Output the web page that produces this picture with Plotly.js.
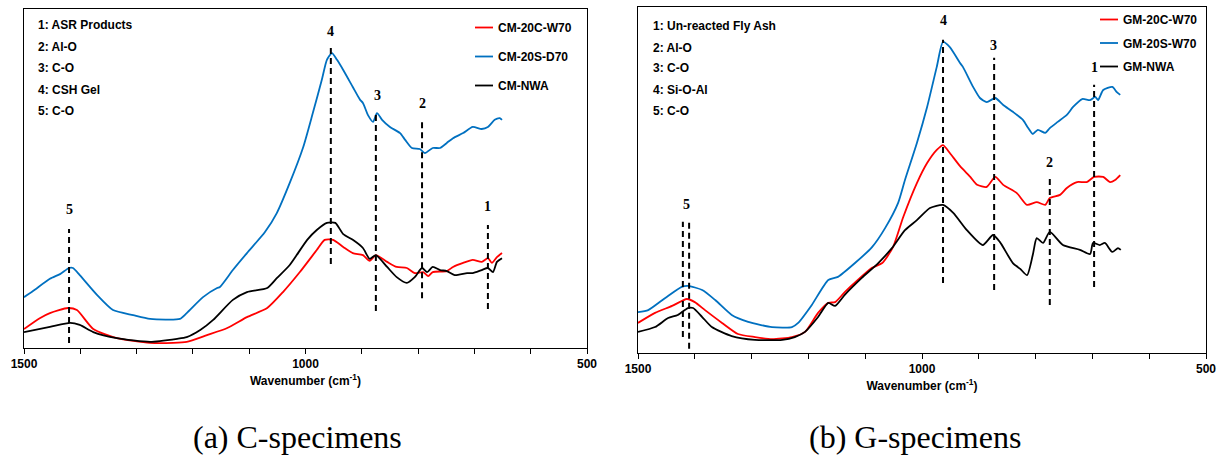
<!DOCTYPE html>
<html>
<head>
<meta charset="utf-8">
<script src="https://cdn.plot.ly/plotly-3.0.1.min.js"></script>
<style>
  html, body { margin: 0; padding: 0; background: #fff; }
  #chart { width: 1219px; height: 456px; }
</style>
</head>
<body>
<div id="chart"></div>
<script>
// ---------------- DATA (wavenumber cm-1, absorbance a.u.) ----------------
// (a) C-specimens
const cWn20C  = [1500,1472,1454,1422,1406,1377,1335,1276,1235,1211,1175,1139,1104,1068,1040,1010,980,966,951,933,916,898,886,875,855,838,820,806,791,782,774,749,738,720,703,687,676,669,660,651];
const cAbs20C = [5.6,8.8,10.3,11.8,11.2,5.6,2.9,1.5,1.5,1.8,3.8,5.9,9.1,11.8,16.5,22.4,28.9,31.9,31.9,29.8,28.0,27.4,25.7,27.4,25.4,23.9,23.6,22.1,22.4,21.2,22.4,22.7,23.9,25.1,26.0,25.4,26.5,25.1,26.8,28.0];

const cWn20S  = [1500,1484,1454,1436,1420,1413,1401,1370,1342,1306,1276,1223,1211,1182,1157,1152,1129,1104,1072,1051,1028,1004,987,971,962,953,944,933,916,903,898,889,880,873,864,850,832,823,811,797,788,774,761,749,738,720,703,687,676,664,655,651];
const cAbs20S = [15.0,16.8,20.4,21.8,23.6,23.6,21.5,15.6,11.2,9.7,8.6,8.6,10.3,15.0,17.7,18.0,23.0,28.0,34.2,39.8,48.7,59.3,69.3,79.1,85.0,87.0,85.0,82.0,77.0,73.2,72.3,68.7,66.7,69.3,67.3,65.2,63.4,61.4,59.0,58.7,57.5,59.0,59.0,60.5,61.9,63.4,65.2,64.6,65.2,67.3,67.8,67.3];

const cWnNWA  = [1500,1454,1418,1401,1377,1335,1276,1228,1211,1187,1164,1129,1104,1068,1051,1028,997,980,962,947,933,916,898,886,875,855,838,820,806,793,784,774,761,749,735,713,703,687,676,667,660,651];
const cAbsNWA = [4.7,6.2,7.4,6.8,4.7,2.9,1.8,2.7,3.2,5.3,8.3,14.2,16.5,17.7,20.6,24.5,31.9,34.8,36.9,36.9,33.6,31.9,29.5,26.3,27.4,23.9,20.9,19.2,20.9,23.6,22.4,23.9,23.0,22.7,21.5,22.1,22.1,23.0,23.6,22.4,25.4,26.5];

// (b) G-specimens
const gWn20C  = [1500,1470,1440,1414,1400,1382,1352,1324,1294,1264,1229,1206,1183,1165,1153,1136,1113,1088,1070,1051,1033,1009,991,974,963,951,933,915,903,886,871,857,833,815,798,783,775,757,745,727,710,697,681,669,660,651];
const gAbs20C = [8.7,11.6,13.6,15.6,14.7,12.4,8.7,5.5,4.6,4.0,4.6,6.1,11.6,14.5,14.7,17.6,21.1,24.6,26.0,30.6,39.3,49.1,54.9,58.7,60.1,57.8,54.0,50.9,48.6,48.0,50.9,48.6,46.2,42.8,43.6,42.8,44.8,45.7,47.7,49.4,49.4,50.9,50.9,49.4,50.0,51.4];

const gWn20S  = [1500,1482,1452,1423,1412,1387,1364,1335,1306,1264,1229,1218,1194,1165,1148,1118,1088,1065,1042,1030,1009,991,974,963,951,933,928,910,898,886,871,857,840,822,813,805,796,783,775,761,745,734,718,704,695,690,681,665,657,651];
const gAbs20S = [11.8,12.4,15.9,19.1,19.4,18.2,15.3,11.0,9.0,7.5,7.5,8.7,13.9,21.1,22.0,26.0,30.6,36.1,43.4,50.0,60.7,71.1,82.7,89.9,88.4,83.8,82.7,76.9,73.7,72.5,73.7,71.7,69.7,67.3,65.0,63.3,64.5,63.6,65.0,66.8,68.8,71.1,73.4,73.1,74.0,73.1,76.0,76.9,75.4,74.6];

const gWnNWA  = [1500,1470,1447,1430,1412,1403,1387,1370,1335,1294,1246,1224,1206,1183,1165,1153,1136,1106,1077,1053,1030,1009,986,963,945,921,893,875,863,840,827,815,805,798,787,775,752,722,704,699,687,678,665,655,650];
const gAbsNWA = [6.1,7.5,10.1,11.0,13.0,13.0,10.4,7.5,4.9,3.8,3.8,4.6,6.1,10.4,14.5,13.6,16.8,21.7,26.0,30.3,35.5,38.4,41.9,42.8,40.5,35.5,31.2,34.1,32.1,26.0,24.3,22.5,28.3,33.2,31.8,35.0,31.2,29.8,28.6,31.8,31.2,31.8,29.2,30.3,29.8];

// Series names
const cNames = ['CM-20C-W70', 'CM-20S-D70', 'CM-NWA'];
const gNames = ['GM-20C-W70', 'GM-20S-W70', 'GM-NWA'];

// Band assignments
const cBands = ['1: ASR Products', '2: Al-O', '3: C-O', '4: CSH Gel', '5: C-O'];
const gBands = ['1: Un-reacted Fly Ash', '2: Al-O', '3: C-O', '4: Si-O-Al', '5: C-O'];

// Peak markers (wavenumber, label)
const cPeakWn    = [676, 793, 875, 955, 1420];
const cPeakLabel = ['1', '2', '3', '4', '5'];
const gPeakWn    = [697, 775, 873, 963, 1421, 1410];
const gPeakLabel = ['1', '2', '3', '4', '5', ''];

// Tick labels
const tickVals = [1500, 1000, 500];
const tickText = ['1500', '1000', '500'];

// Captions
const captions = ['(a) C-specimens', '(b) G-specimens'];

// ---------------- LAYOUT HELPERS (positions of marker lines/labels) ----------------
const cMarkTop    = [36.3, 67.3, 69.3, 89.4, 35.1];
const cMarkBottom = [11.5, 14.7, 10.9, 24.8, 1.5];
const cLabelY     = [41.6, 72.0, 74.6, 93.5, 41.0];
const cLabelX     = [676, 792, 873, 955, 1419];
const gMarkTop    = [77.5, 50.9, 85.3, 90.5, 37.9, 37.9];
const gMarkBottom = [19.1, 13.9, 18.2, 20.2, 4.6, 1.2];
const gLabelY     = [82.4, 55.2, 89.0, 96.2, 42.8, 0];
const gLabelX     = [697, 776, 875, 963, 1415, 0];

const colors = ['#FF0000', '#0070C0', '#000000'];
const W = 1219, H = 456;
const px = v => v / W;
const py = v => 1 - v / H;

const sans = 'Liberation Sans, Arial, sans-serif';
const serif = 'Liberation Serif, Times New Roman, serif';

const traces = [];
function addSet(wns, abss, names, xa, ya, leg) {
  for (let i = 0; i < 3; i++) {
    traces.push({
      type: 'scatter', mode: 'lines',
      x: wns[i], y: abss[i], name: names[i],
      xaxis: xa, yaxis: ya, legend: leg, legendgroup: leg + i,
      line: { color: colors[i], width: 1.8, shape: 'spline', smoothing: 0.6 },
      hoverinfo: 'skip'
    });
  }
}
addSet([cWn20C, cWn20S, cWnNWA], [cAbs20C, cAbs20S, cAbsNWA], cNames, 'x', 'y', 'legend');
addSet([gWn20C, gWn20S, gWnNWA], [gAbs20C, gAbs20S, gAbsNWA], gNames, 'x2', 'y2', 'legend2');

const shapes = [];
const annotations = [];
function addPeaks(wns, labels, tops, bottoms, ly, lx, xr, yr) {
  for (let i = 0; i < wns.length; i++) {
    shapes.push({
      type: 'line', xref: xr, yref: yr,
      x0: wns[i], x1: wns[i], y0: bottoms[i], y1: tops[i],
      line: { color: '#000', width: 2, dash: '6px,4px' }
    });
    if (labels[i]) {
      annotations.push({
        xref: xr, yref: yr, x: lx[i], y: ly[i], text: labels[i], showarrow: false,
        font: { family: serif, size: 14, color: '#000', weight: 'bold' }
      });
    }
  }
}
addPeaks(cPeakWn, cPeakLabel, cMarkTop, cMarkBottom, cLabelY, cLabelX, 'x', 'y');
addPeaks(gPeakWn, gPeakLabel, gMarkTop, gMarkBottom, gLabelY, gLabelX, 'x2', 'y2');

function addBands(list, x0, ys) {
  list.forEach((t, i) => annotations.push({
    xref: 'paper', yref: 'paper', x: px(x0), y: py(ys[i]), xanchor: 'left', yanchor: 'middle',
    text: t, showarrow: false, font: { family: sans, size: 12, color: '#000', weight: 'bold' }
  }));
}
addBands(cBands, 36, [25, 47, 68, 90, 111]);
addBands(gBands, 651, [26, 48, 68, 90, 111]);

annotations.push({
  xref: 'paper', yref: 'paper', x: px(297), y: py(437), text: captions[0], showarrow: false,
  xanchor: 'center', yanchor: 'middle', font: { family: serif, size: 32, color: '#000' }
});
annotations.push({
  xref: 'paper', yref: 'paper', x: px(915), y: py(437), text: captions[1], showarrow: false,
  xanchor: 'center', yanchor: 'middle', font: { family: serif, size: 32, color: '#000' }
});

function xAxis(domain, anchor) {
  return {
    domain: domain, anchor: anchor, range: [1500, 500], autorange: false,
    tickmode: 'array', tickvals: tickVals, ticktext: tickText,
    ticks: 'outside', ticklen: 5, tickwidth: 1, tickcolor: '#000',
    minor: { tickmode: 'linear', tick0: 500, dtick: 100, ticks: 'outside', ticklen: 5, tickwidth: 1, tickcolor: '#000' },
    showline: true, linecolor: '#000', linewidth: 1, mirror: true,
    showgrid: false, zeroline: false,
    tickfont: { family: sans, size: 12, color: '#000', weight: 'bold' },
    title: { text: 'Wavenumber (cm<sup>-1</sup>)', standoff: 6,
             font: { family: sans, size: 12, color: '#000', weight: 'bold' } }
  };
}
function yAxis(domain, anchor) {
  return {
    domain: domain, anchor: anchor, range: [0, 100], autorange: false,
    showticklabels: false, ticks: '', showgrid: false, zeroline: false,
    showline: true, linecolor: '#000', linewidth: 1, mirror: true
  };
}

const layout = {
  width: W, height: H,
  margin: { l: 0, r: 0, t: 0, b: 0 },
  paper_bgcolor: '#fff', plot_bgcolor: '#fff',
  showlegend: true,
  xaxis: xAxis([px(24), px(587)], 'y'),
  yaxis: yAxis([1 - 348 / H, 1 - 9 / H], 'x'),
  xaxis2: xAxis([px(638), px(1206)], 'y2'),
  yaxis2: yAxis([1 - 353 / H, 1 - 7 / H], 'x2'),
  legend: {
    x: px(458), y: py(13), xanchor: 'left', yanchor: 'top',
    traceorder: 'grouped', tracegroupgap: 10, bgcolor: 'rgba(0,0,0,0)',
    font: { family: sans, size: 12, color: '#000', weight: 'bold' }
  },
  legend2: {
    x: px(1083), y: py(5), xanchor: 'left', yanchor: 'top',
    traceorder: 'grouped', tracegroupgap: 4.5, bgcolor: 'rgba(0,0,0,0)',
    font: { family: sans, size: 12, color: '#000', weight: 'bold' }
  },
  shapes: shapes,
  annotations: annotations
};

Plotly.newPlot('chart', traces, layout, { staticPlot: true, displayModeBar: false }).then(gd => {
  // shorten the legend line samples to match the reference's short keys
  gd.querySelectorAll('.legendlines path').forEach(p => p.setAttribute('d', 'M17,0h18'));
});
</script>
</body>
</html>
